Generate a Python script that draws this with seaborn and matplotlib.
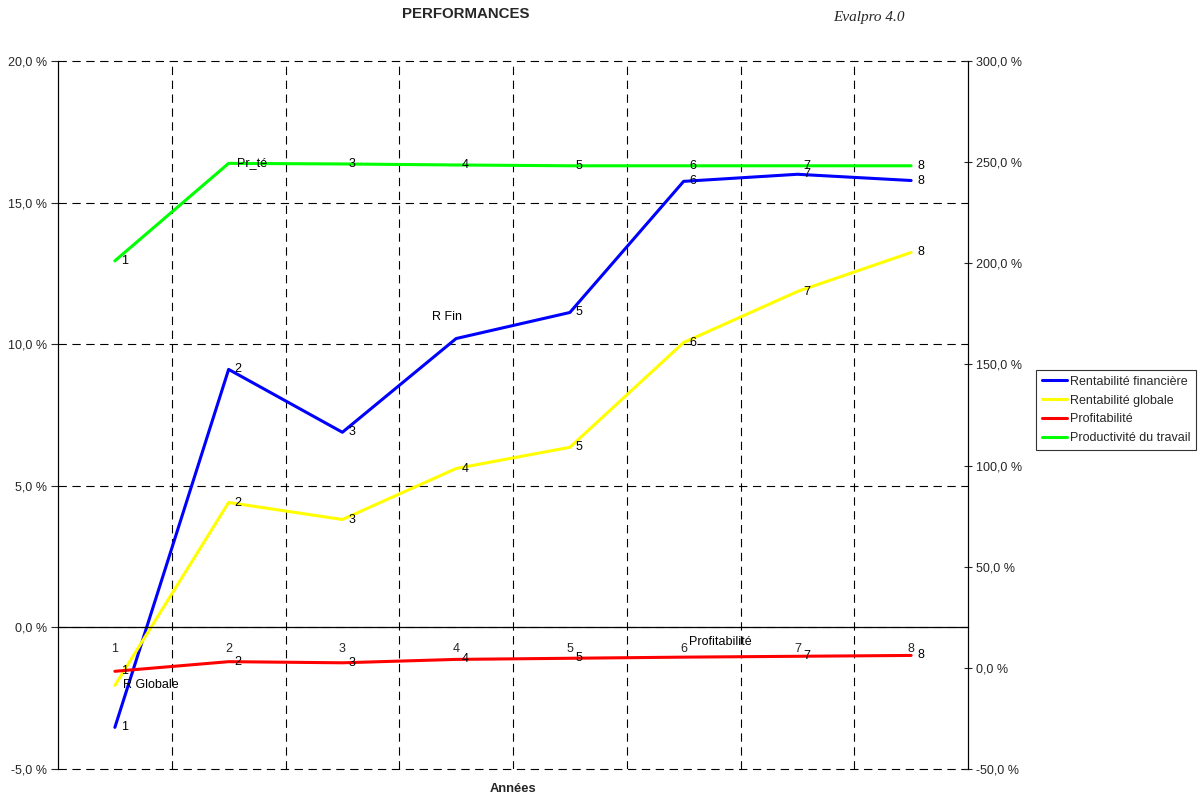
import matplotlib
matplotlib.use("Agg")
import matplotlib.pyplot as plt
import seaborn as sns
import pandas as pd
from matplotlib.ticker import FuncFormatter, FixedLocator
from matplotlib.lines import Line2D

# data
years = [1, 2, 3, 4, 5, 6, 7, 8]
rent_fin = [-3.53, 9.11, 6.89, 10.2, 11.12, 15.75, 16.0, 15.78]
rent_glob = [-2.05, 4.41, 3.81, 5.61, 6.36, 10.06, 11.86, 13.24]
profit = [-1.55, -1.21, -1.25, -1.13, -1.09, -1.05, -1.02, -0.99]
prod_trav = [201.2, 249.4, 249.1, 248.6, 248.2, 248.2, 248.2, 248.2]

lab_fin = ["1", "2", "3", "R Fin", "5", "6", "7", "8"]
lab_glob = ["R Globale", "2", "3", "4", "5", "6", "7", "8"]
lab_prof = ["1", "2", "3", "4", "5", "Profitabilité", "7", "8"]
lab_prod = ["1", "Pr_té", "3", "4", "5", "6", "7", "8"]

names = ["Rentabilité financière", "Rentabilité globale", "Profitabilité", "Productivité du travail"]
colors = ["#0000FF", "#FFFF00", "#FF0000", "#00FF00"]

sns.set_style("white")
plt.rcParams["font.family"] = ["Liberation Sans", "DejaVu Sans"]
plt.rcParams["lines.scale_dashes"] = False

df = pd.DataFrame({"Année": years, "fin": rent_fin, "glob": rent_glob, "prof": profit, "prod": prod_trav})

fig = plt.figure(figsize=(12, 8), dpi=100)
ax = fig.add_axes([58 / 1200, 1 - 769 / 800, 910 / 1200, 708 / 800])
ax2 = ax.twinx()

lw = 2.2
sns.lineplot(data=df, x="Année", y="fin", color=colors[0], lw=lw, ax=ax)
sns.lineplot(data=df, x="Année", y="glob", color=colors[1], lw=lw, ax=ax)
sns.lineplot(data=df, x="Année", y="prof", color=colors[2], lw=lw, ax=ax)
sns.lineplot(data=df, x="Année", y="prod", color=colors[3], lw=lw, ax=ax2)

ax.set_xlim(0.5, 8.5)
ax.set_ylim(-5, 20)
ax2.set_ylim(-50, 300)

pct = FuncFormatter(lambda v, p: f"{v:.1f} %".replace(".", ","))
ax.yaxis.set_major_locator(FixedLocator([-5, 0, 5, 10, 15, 20]))
ax.yaxis.set_major_formatter(pct)
ax2.yaxis.set_major_locator(FixedLocator([-50, 0, 50, 100, 150, 200, 250, 300]))
ax2.yaxis.set_major_formatter(pct)

ax.set_xticks(years)
ax.set_xticklabels([str(y) for y in years])
ax.set_xticks([1.5, 2.5, 3.5, 4.5, 5.5, 6.5, 7.5], minor=True)
ax.tick_params(axis="x", which="major", length=0, pad=11, labelsize=9)
ax.tick_params(axis="x", which="minor", length=6, direction="inout", width=0.8)
ax.tick_params(axis="y", which="major", length=5, direction="out", width=0.8, labelsize=9, pad=3)
ax2.tick_params(axis="y", which="major", length=6, direction="inout", width=0.8, labelsize=9, pad=3)

grid_kw = dict(color="black", linestyle=(0, (6, 4)), linewidth=0.8)
ax.grid(False)
ax2.grid(False)
ax.yaxis.grid(True, which="major", **grid_kw)
ax.xaxis.grid(True, which="minor", **grid_kw)
ax.set_axisbelow(True)
for gl in ax.get_ygridlines():
    gl.set_clip_on(False)

for a in (ax, ax2):
    a.spines["top"].set_visible(False)
    a.spines["left"].set_color("black")
    a.spines["right"].set_color("black")
ax2.spines["bottom"].set_visible(False)
ax.spines["bottom"].set_position(("data", 0))
ax.spines["bottom"].set_color("black")
ax.spines["bottom"].set_linewidth(0.9)

ax.set_xlabel("")
ax.set_ylabel("")
ax2.set_ylabel("")

# point labels
special = {"R Fin": (-24, 22), "Profitabilité": (5, 15), "R Globale": (8, 0), "Pr_té": (8, 0)}
for a, vals, labs in [(ax, rent_fin, lab_fin), (ax, rent_glob, lab_glob),
                      (ax, profit, lab_prof), (ax2, prod_trav, lab_prod)]:
    for x, v, t in zip(years, vals, labs):
        off = special.get(t, (6, 0))
        a.annotate(t, xy=(x, v), xytext=off, textcoords="offset pixels",
                   ha="left", va="center", fontsize=9, color="black")

fig.text(466 / 1200, 1 - 14 / 800, "PERFORMANCES", ha="center", va="center",
         fontsize=10.8, fontweight="bold")
fig.text(869 / 1200, 1 - 17 / 800, "Evalpro 4.0", ha="center", va="center",
         fontsize=11, style="italic", family=["Liberation Serif", "DejaVu Serif"])
fig.text(513 / 1200, 1 - 789 / 800, "Années", ha="center", va="center",
         fontsize=9.3, fontweight="bold")

handles = [Line2D([0], [0], color=c, lw=lw) for c in colors]
leg = fig.legend(handles, names, loc="center left",
                 bbox_to_anchor=(1036 / 1200, 1 - 410 / 800),
                 fontsize=9, frameon=True, fancybox=False, edgecolor="black",
                 handlelength=2.0, handletextpad=0.25, labelspacing=0.55,
                 borderpad=0.45, borderaxespad=0)
leg.get_frame().set_linewidth(0.8)

fig.savefig("out.png", dpi=100, facecolor="white")
